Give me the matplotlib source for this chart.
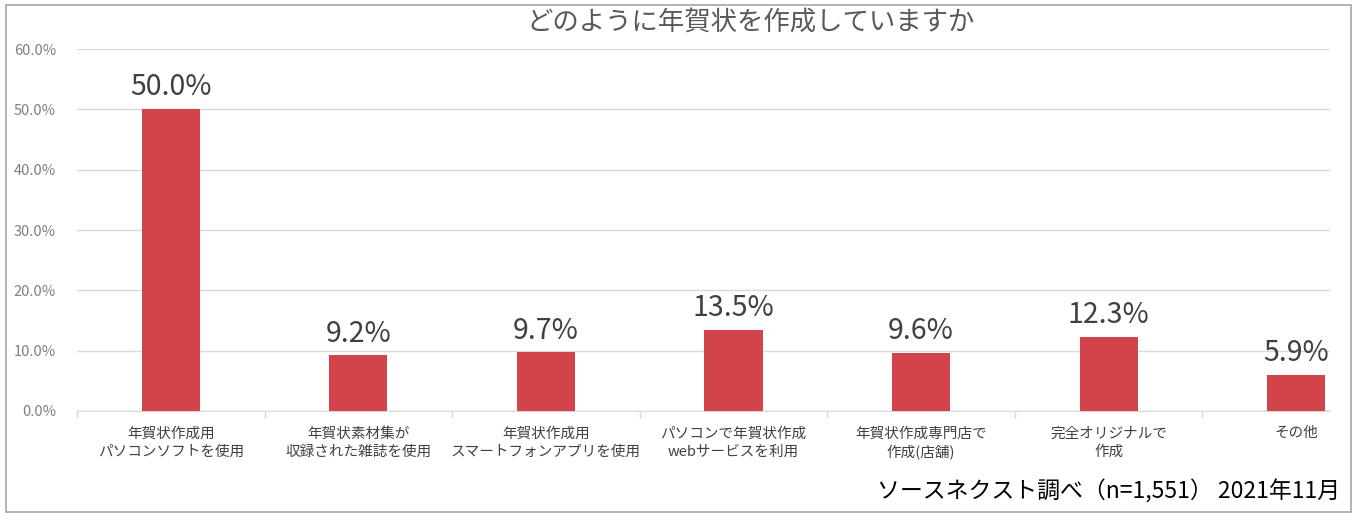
import matplotlib
matplotlib.use("Agg")
import numpy as np
from matplotlib import pyplot as plt
from matplotlib.patches import Rectangle

plt.rcParams['font.family'] = ['Noto Sans CJK JP', 'DejaVu Sans']

title = "どのように年賀状を作成していますか"
categories = [
    "年賀状作成用\nパソコンソフトを使用",
    "年賀状素材集が\n収録された雑誌を使用",
    "年賀状作成用\nスマートフォンアプリを使用",
    "パソコンで年賀状作成\nwebサービスを利用",
    "年賀状作成専門店で\n作成(店舗)",
    "完全オリジナルで\n作成",
    "その他",
]
values = [50.0, 9.2, 9.7, 13.5, 9.6, 12.3, 5.9]
yticks = [0, 10, 20, 30, 40, 50, 60]
source = "ソースネクスト調べ（n=1,551） 2021年11月"

fig = plt.figure(figsize=(13.6, 5.23), dpi=100)

# outer frame
fig.patches.append(Rectangle((6 / 1360, 1 - 512 / 523), 1345 / 1360, 507 / 523,
                             transform=fig.transFigure, fill=False,
                             edgecolor='#a6a6a6', linewidth=1.2))

ax = fig.add_axes([77 / 1360, 112 / 523, 1253 / 1360, 362 / 523])

x = np.arange(len(values))
ax.bar(x, values, width=0.31, color='#d2434a', zorder=3)

for xi, v in zip(x, values):
    ax.annotate("{:.1f}%".format(v), (xi, v), xytext=(0, 5),
                textcoords='offset points', ha='center', va='bottom',
                fontsize=20.5, color='#404040')

ax.set_xlim(-0.5, 6.18)
ax.set_ylim(0, 60)
ax.set_yticks(yticks)
ax.set_yticklabels(["{:.1f}%".format(t) for t in yticks], fontsize=10.5, color='#7f7f7f')
ax.tick_params(axis='y', length=0, pad=15)

ax.set_xticks(x)
ax.set_xticklabels(categories, fontsize=10.5, color='#404040', linespacing=1.4)
ax.tick_params(axis='x', which='major', length=0, pad=11)
ax.set_xticks(np.arange(-0.5, 6.0, 1.0), minor=True)
ax.tick_params(axis='x', which='minor', length=5, color='#d9d9d9', width=1)

ax.grid(axis='y', color='#d9d9d9', linewidth=1, zorder=0)
for s in ['top', 'right', 'left']:
    ax.spines[s].set_visible(False)
ax.spines['bottom'].set_color('#d9d9d9')

fig.text(751 / 1360, 1 - 22 / 523, title, ha='center', va='center',
         fontsize=19, color='#595959')
fig.text(1340 / 1360, 1 - 492 / 523, source, ha='right', va='center',
         fontsize=16.5, color='black')

fig.savefig("out.png", dpi=100)
